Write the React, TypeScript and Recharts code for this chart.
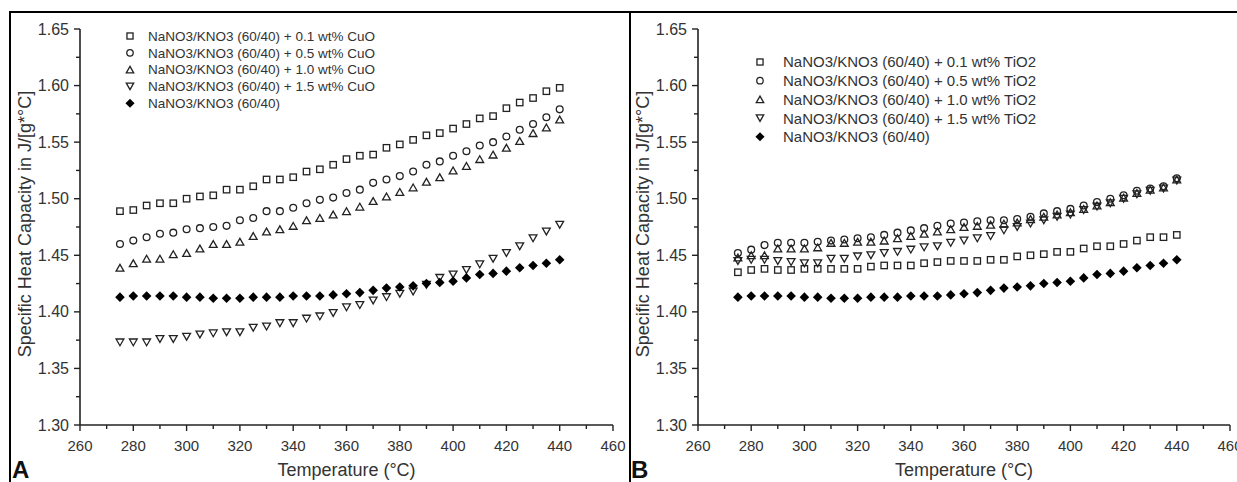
import React from 'react';
import { ScatterChart, Scatter, XAxis, YAxis } from 'recharts';

// temperatures (°C), 275..440 step 5
const temps = [275, 280, 285, 290, 295, 300, 305, 310, 315, 320, 325, 330, 335, 340, 345, 350, 355,
  360, 365, 370, 375, 380, 385, 390, 395, 400, 405, 410, 415, 420, 425, 430, 435, 440];

// specific heat capacity J/(g°C)
const baseSalt = [1.413, 1.414, 1.414, 1.414, 1.414, 1.413, 1.413, 1.412, 1.412, 1.412, 1.413, 1.413, 1.413, 1.414, 1.414, 1.414, 1.415,
  1.416, 1.417, 1.419, 1.421, 1.422, 1.423, 1.425, 1.426, 1.427, 1.430, 1.433, 1.434, 1.436, 1.439, 1.441, 1.443, 1.446];

const cuo01 = [1.489, 1.490, 1.494, 1.496, 1.496, 1.500, 1.502, 1.503, 1.508, 1.508, 1.511, 1.517, 1.517, 1.519, 1.524, 1.526, 1.530,
  1.535, 1.538, 1.539, 1.545, 1.548, 1.552, 1.556, 1.558, 1.562, 1.566, 1.571, 1.573, 1.580, 1.585, 1.589, 1.595, 1.598];
const cuo05 = [1.460, 1.463, 1.466, 1.469, 1.470, 1.473, 1.474, 1.475, 1.476, 1.481, 1.483, 1.489, 1.489, 1.492, 1.496, 1.499, 1.501,
  1.505, 1.508, 1.514, 1.517, 1.520, 1.524, 1.530, 1.533, 1.538, 1.542, 1.547, 1.550, 1.555, 1.561, 1.566, 1.572, 1.579];
const cuo10 = [1.439, 1.443, 1.447, 1.447, 1.451, 1.452, 1.456, 1.460, 1.460, 1.462, 1.467, 1.471, 1.473, 1.476, 1.481, 1.483, 1.486,
  1.489, 1.493, 1.498, 1.502, 1.506, 1.510, 1.515, 1.519, 1.525, 1.529, 1.535, 1.539, 1.545, 1.551, 1.558, 1.563, 1.570];
const cuo15 = [1.373, 1.373, 1.373, 1.376, 1.376, 1.378, 1.380, 1.381, 1.382, 1.382, 1.386, 1.387, 1.390, 1.390, 1.394, 1.396, 1.399,
  1.404, 1.406, 1.410, 1.413, 1.416, 1.418, 1.424, 1.430, 1.433, 1.437, 1.442, 1.447, 1.452, 1.458, 1.465, 1.471, 1.477];

const tio01 = [1.435, 1.437, 1.438, 1.437, 1.437, 1.438, 1.438, 1.438, 1.438, 1.438, 1.440, 1.441, 1.441, 1.441, 1.443, 1.444, 1.445,
  1.445, 1.445, 1.446, 1.446, 1.449, 1.450, 1.451, 1.453, 1.453, 1.456, 1.458, 1.458, 1.460, 1.463, 1.466, 1.466, 1.468];
const tio05 = [1.452, 1.455, 1.459, 1.461, 1.461, 1.461, 1.462, 1.463, 1.464, 1.465, 1.466, 1.468, 1.470, 1.472, 1.474, 1.476, 1.478,
  1.479, 1.480, 1.481, 1.481, 1.482, 1.484, 1.487, 1.489, 1.491, 1.494, 1.497, 1.500, 1.503, 1.507, 1.509, 1.511, 1.518];
const tio10 = [1.448, 1.450, 1.450, 1.456, 1.456, 1.456, 1.457, 1.461, 1.461, 1.462, 1.462, 1.463, 1.465, 1.467, 1.469, 1.471, 1.473,
  1.475, 1.476, 1.477, 1.478, 1.479, 1.482, 1.484, 1.486, 1.488, 1.491, 1.494, 1.497, 1.501, 1.505, 1.508, 1.510, 1.517];
const tio15 = [1.445, 1.446, 1.446, 1.445, 1.444, 1.443, 1.443, 1.447, 1.447, 1.449, 1.450, 1.452, 1.453, 1.455, 1.457, 1.458, 1.461,
  1.463, 1.465, 1.467, 1.472, 1.475, 1.478, 1.481, 1.484, 1.486, 1.490, 1.493, 1.496, 1.500, 1.504, 1.507, 1.509, 1.516];

const xTicks = [260, 270, 280, 290, 300, 310, 320, 330, 340, 350, 360, 370, 380, 390, 400, 410, 420, 430, 440, 450, 460];
const yTicks = [1.3, 1.325, 1.35, 1.375, 1.4, 1.425, 1.45, 1.475, 1.5, 1.525, 1.55, 1.575, 1.6, 1.625, 1.65];

const cuoNames = [
  'NaNO3/KNO3 (60/40) + 0.1 wt% CuO',
  'NaNO3/KNO3 (60/40) + 0.5 wt% CuO',
  'NaNO3/KNO3 (60/40) + 1.0 wt% CuO',
  'NaNO3/KNO3 (60/40) + 1.5 wt% CuO',
  'NaNO3/KNO3 (60/40)',
];
const tioNames = [
  'NaNO3/KNO3 (60/40) + 0.1 wt% TiO2',
  'NaNO3/KNO3 (60/40) + 0.5 wt% TiO2',
  'NaNO3/KNO3 (60/40) + 1.0 wt% TiO2',
  'NaNO3/KNO3 (60/40) + 1.5 wt% TiO2',
  'NaNO3/KNO3 (60/40)',
];
const kinds = ['square', 'circle', 'up', 'down', 'diamond'];

const FONT = '"Liberation Sans", Arial, sans-serif';
const INK = '#222';

const toPoints = (vals: number[]) => temps.map((t, i) => ({ t, cp: vals[i] }));

function Marker({ cx, cy, kind, s = 1 }: { cx: number; cy: number; kind: string; s?: number }) {
  const sw = 1.3;
  if (kind === 'square') {
    const h = 3.2 * s;
    return <rect x={cx - h} y={cy - h} width={2 * h} height={2 * h} fill="none" stroke={INK} strokeWidth={sw} />;
  }
  if (kind === 'circle') {
    return <circle cx={cx} cy={cy} r={3.4 * s} fill="none" stroke={INK} strokeWidth={sw} />;
  }
  if (kind === 'up') {
    const w = 3.9 * s, h = 3.4 * s;
    return <polygon points={`${cx},${cy - h} ${cx + w},${cy + h} ${cx - w},${cy + h}`} fill="none" stroke={INK} strokeWidth={sw} />;
  }
  if (kind === 'down') {
    const w = 3.9 * s, h = 3.4 * s;
    return <polygon points={`${cx - w},${cy - h} ${cx + w},${cy - h} ${cx},${cy + h}`} fill="none" stroke={INK} strokeWidth={sw} />;
  }
  const d = 4.8 * s;
  return <polygon points={`${cx},${cy - d} ${cx + d},${cy} ${cx},${cy + d} ${cx - d},${cy}`} fill="#000" />;
}

function XTick(props: any) {
  const { x, y, payload } = props;
  const major = payload.value % 20 === 0;
  return (
    <g>
      <line x1={x} y1={y} x2={x} y2={y + (major ? 6 : 4)} stroke={INK} strokeWidth={1.4} />
      {major && (
        <text x={x} y={y + 26} textAnchor="middle" fontSize={15} fontFamily={FONT} fill="#333">{payload.value}</text>
      )}
    </g>
  );
}

function YTick(props: any) {
  const { x, y, payload } = props;
  const major = Math.round(payload.value * 1000) % 50 === 0;
  return (
    <g>
      <line x1={x} y1={y} x2={x - (major ? 6 : 4)} y2={y} stroke={INK} strokeWidth={1.4} />
      {major && (
        <text x={x - 11} y={y + 5.5} textAnchor="end" fontSize={16} fontFamily={FONT} fill="#333">{payload.value.toFixed(2)}</text>
      )}
    </g>
  );
}

function Legend({ names, top, gap, size, mx, tx }: any) {
  return (
    <svg style={{ position: 'absolute', left: 0, top: 0, pointerEvents: 'none' }} width={620} height={200}>
      {names.map((n: string, i: number) => (
        <g key={n}>
          <Marker cx={mx} cy={top + i * gap} kind={kinds[i]} s={0.95} />
          <text x={tx} y={top + i * gap + size * 0.36} fontSize={size} fontFamily={FONT} fill="#333">{n}</text>
        </g>
      ))}
    </svg>
  );
}

function Panel({ series, width, right, names, legend }: any) {
  return (
    <div style={{ position: 'relative', width, height: 482 }}>
      <ScatterChart width={width} height={482} margin={{ top: 29, right, left: 30, bottom: 0 }}>
        <XAxis
          type="number"
          dataKey="t"
          domain={[260, 460]}
          ticks={xTicks}
          interval={0}
          height={57}
          tickSize={0}
          tickMargin={0}
          tickLine={false}
          tick={<XTick />}
          axisLine={{ stroke: INK, strokeWidth: 1.6 }}
          label={(p: any) => {
            const vb = p.viewBox;
            return (
              <text x={vb.x + vb.width / 2} y={476} textAnchor="middle" fontSize={18} fontFamily={FONT} fill="#333">
                Temperature (°C)
              </text>
            );
          }}
        />
        <YAxis
          type="number"
          dataKey="cp"
          domain={[1.3, 1.65]}
          ticks={yTicks}
          interval={0}
          width={50}
          tickSize={0}
          tickMargin={0}
          tickLine={false}
          tick={<YTick />}
          axisLine={{ stroke: INK, strokeWidth: 1.6 }}
          label={() => (
            <text x={25} y={224} transform="rotate(-90 25 224)" textAnchor="middle" dominantBaseline="central" fontSize={18} fontFamily={FONT} fill="#333">
              Specific Heat Capacity in J/[g*°C]
            </text>
          )}
        />
        {series.map((vals: number[], i: number) => (
          <Scatter
            key={i}
            data={toPoints(vals)}
            isAnimationActive={false}
            shape={(p: any) => <Marker cx={p.cx} cy={p.cy} kind={kinds[i]} />}
          />
        ))}
      </ScatterChart>
      <Legend names={names} {...legend} />
    </div>
  );
}

export default function App() {
  return (
    <div style={{ position: 'absolute', left: 0, top: 0, width: 1237, height: 482, background: '#fff', overflow: 'hidden', fontFamily: FONT }}>
      <div style={{ position: 'absolute', left: 0, top: 0 }}>
        <Panel
          width={628}
          right={15}
          series={[cuo01, cuo05, cuo10, cuo15, baseSalt]}
          names={cuoNames}
          legend={{ top: 36, gap: 16.8, size: 13.5, mx: 130, tx: 148 }}
        />
      </div>
      <div style={{ position: 'absolute', left: 618, top: 0 }}>
        <Panel
          width={619}
          right={7}
          series={[tio01, tio05, tio10, tio15, baseSalt]}
          names={tioNames}
          legend={{ top: 62, gap: 18.7, size: 15, mx: 142, tx: 165 }}
        />
      </div>
      {/* figure frame */}
      <div style={{ position: 'absolute', left: 10, top: 11, width: 1227, height: 2, background: '#000' }} />
      <div style={{ position: 'absolute', left: 9, top: 11, width: 2, height: 471, background: '#000' }} />
      <div style={{ position: 'absolute', left: 629, top: 11, width: 2, height: 471, background: '#000' }} />
      <div style={{ position: 'absolute', left: 12, top: 456, fontSize: 24, fontWeight: 'bold', fontFamily: FONT, color: '#111' }}>A</div>
      <div style={{ position: 'absolute', left: 631, top: 456, fontSize: 24, fontWeight: 'bold', fontFamily: FONT, color: '#111' }}>B</div>
    </div>
  );
}
